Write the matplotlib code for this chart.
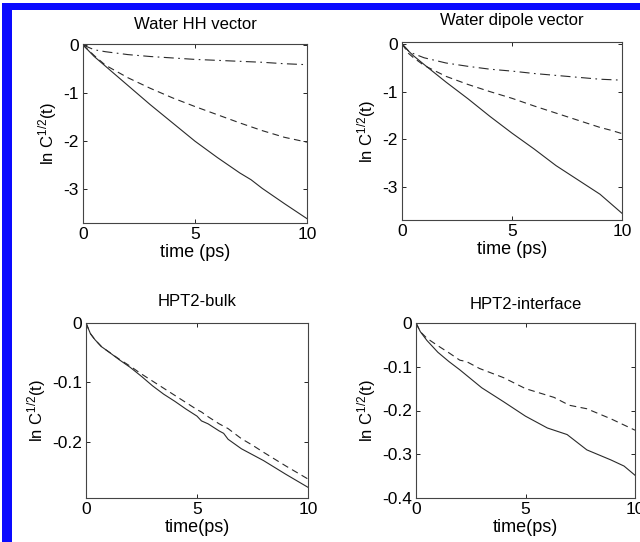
import matplotlib
matplotlib.use('Agg')
import matplotlib.pyplot as plt
from matplotlib.patches import Rectangle

plt.rcParams['font.family'] = ['Liberation Sans', 'DejaVu Sans']
plt.rcParams['mathtext.fontset'] = 'custom'
plt.rcParams['mathtext.rm'] = 'Liberation Sans'
plt.rcParams['mathtext.it'] = 'Liberation Sans'

# --- Water HH vector ---
hh_t = [0, 0.5, 1, 2, 3, 4, 5, 6, 7, 7.5, 8, 9, 10]
hh_solid = [0, -0.24, -0.44, -0.84, -1.24, -1.62, -2.0, -2.34, -2.66, -2.8, -2.98, -3.3, -3.61]
hh_dash = [0, -0.22, -0.42, -0.68, -0.9, -1.1, -1.28, -1.45, -1.62, -1.7, -1.78, -1.92, -2.02]
hh_dashdot = [0, -0.1, -0.14, -0.2, -0.24, -0.27, -0.3, -0.32, -0.34, -0.35, -0.36, -0.39, -0.41]

# --- Water dipole vector ---
dip_t = [0, 0.3, 0.5, 1, 2, 3, 4, 5, 6, 7, 8, 9, 9.5, 10]
dip_solid = [0, -0.15, -0.24, -0.43, -0.8, -1.15, -1.52, -1.87, -2.2, -2.55, -2.85, -3.15, -3.35, -3.55]
dip_dash = [0, -0.2, -0.28, -0.45, -0.68, -0.85, -1.0, -1.14, -1.3, -1.45, -1.6, -1.75, -1.81, -1.88]
dip_dashdot = [0, -0.15, -0.2, -0.29, -0.4, -0.47, -0.53, -0.57, -0.62, -0.66, -0.7, -0.74, -0.75, -0.76]

# --- HPT2-bulk ---
bulk_t = [0, 0.2, 0.4, 0.7, 1, 1.5, 2, 2.5, 3, 3.5, 4, 4.5, 5, 5.2, 5.5, 6, 6.2, 6.4, 7, 7.5, 8, 9, 10]
bulk_solid = [0, -0.018, -0.028, -0.04, -0.048, -0.062, -0.075, -0.09, -0.106, -0.12, -0.132,
              -0.145, -0.157, -0.165, -0.17, -0.182, -0.186, -0.196, -0.212, -0.222, -0.232, -0.255, -0.277]
bulk_dash = [0, -0.018, -0.028, -0.04, -0.048, -0.061, -0.073, -0.086, -0.098, -0.11, -0.122,
             -0.134, -0.146, -0.15, -0.158, -0.17, -0.174, -0.178, -0.195, -0.206, -0.218, -0.241, -0.263]

# --- HPT2-interface ---
int_t = [0, 0.2, 0.5, 1, 1.5, 2, 3, 4, 5, 6, 6.9, 7.8, 8.9, 9.5, 10]
int_solid = [0, -0.02, -0.04, -0.067, -0.088, -0.107, -0.148, -0.18, -0.213, -0.24, -0.255,
             -0.29, -0.313, -0.327, -0.348]
int_dash_t = [0, 0.2, 0.5, 1, 1.5, 2, 2.3, 2.9, 4, 5, 6.3, 7, 7.8, 8.9, 10]
int_dash = [0, -0.02, -0.035, -0.052, -0.068, -0.085, -0.088, -0.104, -0.125, -0.15, -0.17,
            -0.188, -0.196, -0.219, -0.245]

W, H = 640, 542
fig = plt.figure(figsize=(6.4, 5.42), dpi=100)


def box(x0, x1, y0, y1):
    return [x0 / W, 1 - y1 / H, (x1 - x0) / W, (y1 - y0) / H]


lc = '#2a2a2a'
dash = (0, (6, 4))
dashdot = (0, (9, 4, 1.5, 4))
ylab = r'ln C$^{1/2}$(t)'

panels = [
    (box(83, 307, 44, 223), 'Water HH vector', 'time (ps)', (-3.7, 0.02), [-3, -2, -1, 0], 11,
     [(hh_t, hh_solid, '-'), (hh_t, hh_dash, dash), (hh_t, hh_dashdot, dashdot)]),
    (box(402, 622, 42, 220), 'Water dipole vector', 'time (ps)', (-3.69, 0.04), [-3, -2, -1, 0], 12,
     [(dip_t, dip_solid, '-'), (dip_t, dip_dash, dash), (dip_t, dip_dashdot, dashdot)]),
    (box(86, 308, 323, 498), 'HPT2-bulk', 'time(ps)', (-0.295, 0), [-0.2, -0.1, 0], 12,
     [(bulk_t, bulk_solid, '-'), (bulk_t, bulk_dash, dash)]),
    (box(416, 635, 323, 498), 'HPT2-interface', 'time(ps)', (-0.4, 0), [-0.4, -0.3, -0.2, -0.1, 0], 10,
     [(int_t, int_solid, '-'), (int_dash_t, int_dash, dash)]),
]

for pos, title, xl, ylim, yticks, tpad, lines in panels:
    ax = fig.add_axes(pos)
    for t, y, ls in lines:
        ax.plot(t, y, color=lc, lw=0.8, linestyle=ls)
    ax.set_xlim(0, 10)
    ax.set_ylim(*ylim)
    ax.set_xticks([0, 5, 10])
    ax.set_yticks(yticks)
    ax.set_yticklabels(['%g' % v for v in yticks])
    ax.tick_params(direction='in', top=True, right=True, length=3, width=0.6,
                   labelsize=12.5, pad=3, colors='black')
    for s in ax.spines.values():
        s.set_linewidth(0.8)
        s.set_color('#444444')
    ax.set_title(title, fontsize=12, pad=tpad)
    ax.set_xlabel(xl, fontsize=13, labelpad=1.5)
    ax.set_ylabel(ylab, fontsize=12, labelpad=3)

# blue frame on top and left
fig.add_artist(Rectangle((2 / W, 0), 10 / W, (H - 3) / H, transform=fig.transFigure,
                         color='#0a0aff', lw=0))
fig.add_artist(Rectangle((2 / W, 1 - 10 / H), (W - 2) / W, 7 / H, transform=fig.transFigure,
                         color='#0a0aff', lw=0))

fig.savefig('out.png', dpi=100)
